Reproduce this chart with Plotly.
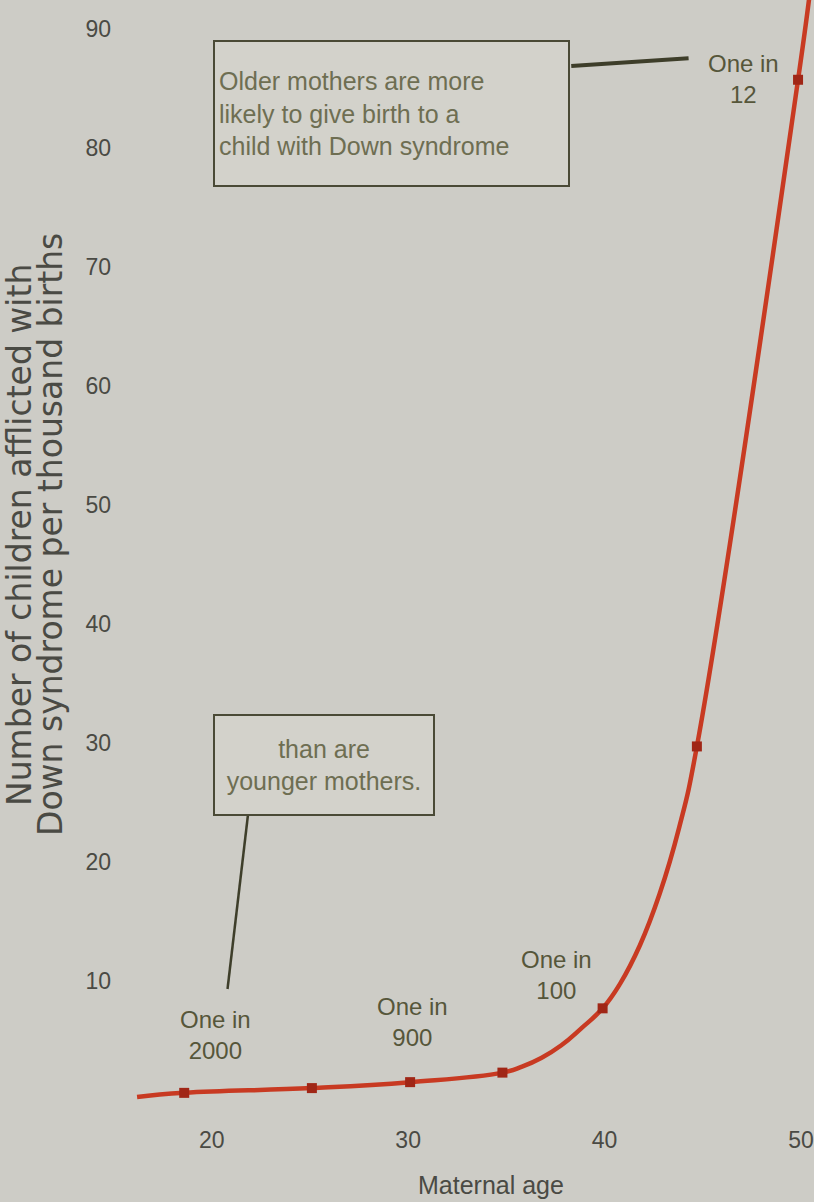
import plotly.graph_objects as go

# ---- data ----
curve_age = [16.2, 18.6, 25.1, 30.1, 34.8, 35.8, 36.8, 37.8, 38.8, 39.9, 40.8, 41.8, 42.8, 43.8, 44.7, 49.85, 50.45]
curve_rate = [0.25, 0.6, 1.0, 1.5, 2.3, 2.8, 3.55, 4.6, 6.0, 7.7, 9.8, 13.0, 17.3, 22.9, 29.7, 85.7, 93.0]

point_age = [18.6, 25.1, 30.1, 34.8, 39.9, 44.7, 49.85]
point_rate = [0.6, 1.0, 1.5, 2.3, 7.7, 29.7, 85.7]
point_label = ["One in<br>2000", "", "One in<br>900", "", "One in<br>100", "", "One in<br>12"]
label_shift = [(31, 58), None, (2, 60), None, (-46, 33), None, (-55, 1)]

x_ticks = [20, 30, 40, 50]
y_ticks = [10, 20, 30, 40, 50, 60, 70, 80, 90]

x_title = "Maternal age"
y_title = ["Number of children afflicted with", "Down syndrome per thousand births"]
note_older = "Older mothers are more<br>likely to give birth to a<br>child with Down syndrome"
note_younger = "than are<br>younger mothers."

BG = "#cdccc6"
TXT = "#4a4a44"
OLIVE = "#56563a"
RED = "#c83a22"
FONT = "Liberation Sans, Arial, sans-serif"

fig = go.Figure()
fig.add_trace(go.Scatter(x=curve_age, y=curve_rate, mode="lines",
                         line=dict(color=RED, width=4.5, shape="spline", smoothing=1.3),
                         hoverinfo="skip", showlegend=False))
fig.add_trace(go.Scatter(x=point_age, y=point_rate, mode="markers",
                         marker=dict(symbol="square", size=10, color="#a02616"),
                         showlegend=False))

annotations = []
for a, r, t, s in zip(point_age, point_rate, point_label, label_shift):
    if t:
        annotations.append(dict(x=a, y=r, xref="x", yref="y", text=t, showarrow=False,
                                xshift=s[0], yshift=s[1], align="center",
                                font=dict(family=FONT, size=24, color=OLIVE)))

# y-axis title (two lines)
for i, line in enumerate(y_title):
    annotations.append(dict(x=0, y=0.518, xref="paper", yref="paper", text=line,
                            textangle=-90, showarrow=False, xanchor="center", yanchor="middle",
                            xshift=-111 + 31 * i,
                            font=dict(family="DejaVu Sans, sans-serif", size=33, color=TXT)))

# x-axis title
annotations.append(dict(x=0.53, y=0, xref="paper", yref="paper", text=x_title, showarrow=False,
                        yanchor="middle", yshift=-75,
                        font=dict(family=FONT, size=25, color=TXT)))

# note boxes
annotations.append(dict(x=0.121, y=0.964, xref="paper", yref="paper", text=note_older,
                        showarrow=False, xanchor="left", yanchor="top", align="left",
                        width=345, height=135, borderpad=4,
                        bordercolor="#4a4a36", borderwidth=2, bgcolor="#d3d2cb",
                        font=dict(family=FONT, size=25, color="#6e6e52")))
annotations.append(dict(x=0.121, y=0.357, xref="paper", yref="paper", text=note_younger,
                        showarrow=False, xanchor="left", yanchor="top", align="center",
                        width=210, height=90, borderpad=4,
                        bordercolor="#4a4a36", borderwidth=2, bgcolor="#d3d2cb",
                        font=dict(family=FONT, size=25, color="#6e6e52")))

shapes = [
    dict(type="line", xref="paper", yref="paper", x0=0.647, y0=0.9405, x1=0.819, y1=0.9475,
         line=dict(color="#3e3e2a", width=4)),
    dict(type="line", xref="paper", yref="paper", x0=0.173, y0=0.266, x1=0.143, y1=0.109,
         line=dict(color="#3e3e2a", width=2.5)),
]

fig.update_layout(
    width=814, height=1202,
    margin=dict(l=130, r=0, t=0, b=92),
    paper_bgcolor=BG, plot_bgcolor=BG,
    showlegend=False,
    annotations=annotations,
    shapes=shapes,
    xaxis=dict(range=[15.84, 50.56], tickvals=x_ticks, showgrid=False, zeroline=False,
               showline=False, ticks="", ticklabelstandoff=14, ticklabeloverflow="allow",
               tickfont=dict(family=FONT, size=23, color=TXT)),
    yaxis=dict(range=[-0.84, 92.4], tickvals=y_ticks, showgrid=False, zeroline=False,
               showline=False, ticks="", ticklabelstandoff=18,
               tickfont=dict(family=FONT, size=23, color=TXT)),
)

fig.write_html("out.html", config={"displayModeBar": False},
               post_script="document.body.style.margin='0px';document.body.style.overflow='hidden';")
